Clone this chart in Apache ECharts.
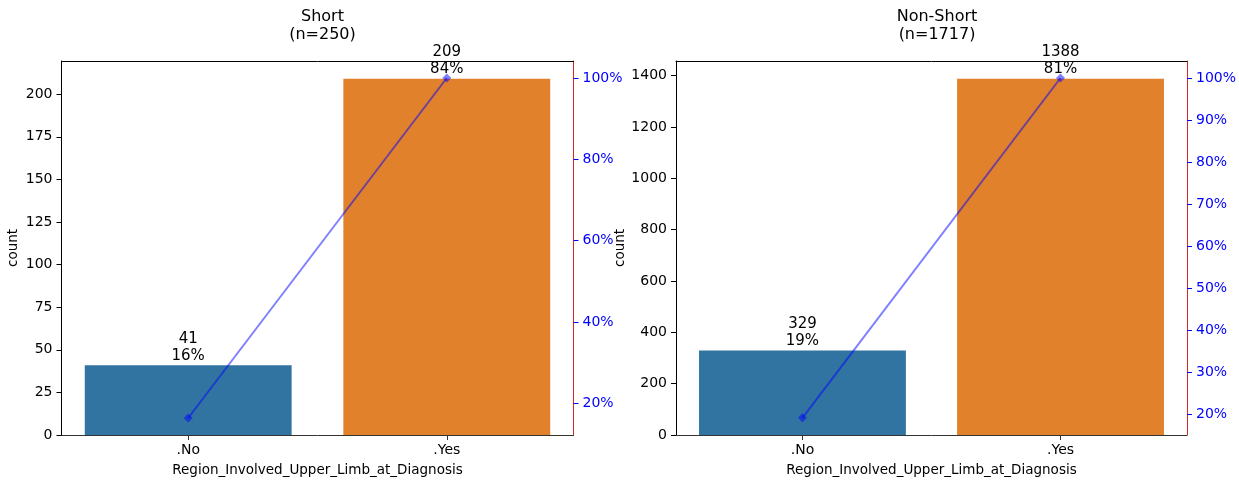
<!DOCTYPE html>
<html>
<head>
<meta charset="utf-8">
<script src="https://cdn.jsdelivr.net/npm/echarts@6/dist/echarts.min.js"></script>
<style>
html,body{margin:0;padding:0;background:#fff;}
#chart{width:1239px;height:484px;}
</style>
</head>
<body>
<div id="chart"></div>
<script>
const categories = ['.No', '.Yes'];
const shortCounts = [41, 209];
const nonShortCounts = [329, 1388];
const shortCumPct = [16.4, 100];
const nonShortCumPct = [19.2, 100];
const shortTitle = 'Short\n(n=250)';
const nonShortTitle = 'Non-Short\n(n=1717)';
const shortCountTicks = [0, 25, 50, 75, 100, 125, 150, 175, 200];
const nonShortCountTicks = [0, 200, 400, 600, 800, 1000, 1200, 1400];
const shortPctTicks = [20, 40, 60, 80, 100];
const nonShortPctTicks = [20, 30, 40, 50, 60, 70, 80, 90, 100];
const xName = 'Region_Involved_Upper_Limb_at_Diagnosis';

const FONT = 'DejaVu Sans';
const barColors = ['#3274a1', '#e1812c'];
const X_MIN = -0.49, X_MAX = 1.49, BAR_FRAC = 0.8;
const GRID_W = 512;
const catIdx = categories.map((c, i) => i);

function panel(idx, counts, cum, countTicks, countMax, pctTicks, pctRange, nameGapY) {
  const total = counts.reduce((a, b) => a + b, 0);
  const xAxis = {
    type: 'value', gridIndex: idx, min: X_MIN, max: X_MAX,
    name: xName, nameLocation: 'middle', nameGap: 28,
    nameTextStyle: {fontFamily: FONT, fontSize: 13.5, color: '#000'},
    axisLine: {show: true, onZero: false, lineStyle: {color: '#333', width: 1}},
    axisTick: {show: true, length: 5, customValues: catIdx, lineStyle: {color: '#333'}},
    axisLabel: {fontFamily: FONT, fontSize: 14, color: '#000', margin: 8, customValues: catIdx,
      formatter: v => categories[Math.round(v)]},
    splitLine: {show: false}
  };
  const xTop = {
    type: 'value', gridIndex: idx, min: X_MIN, max: X_MAX, position: 'top',
    axisLine: {show: true, onZero: false, lineStyle: {color: '#000', width: 1}},
    axisTick: {show: false}, axisLabel: {show: false}, splitLine: {show: false}
  };
  const yCount = {
    type: 'value', gridIndex: idx, position: 'left', min: 0, max: countMax,
    name: 'count', nameLocation: 'middle', nameGap: nameGapY, nameRotate: 90,
    nameTextStyle: {fontFamily: FONT, fontSize: 13.5, color: '#000'},
    axisLine: {show: true, onZero: false, lineStyle: {color: '#000', width: 1}},
    axisTick: {show: true, length: 5, customValues: countTicks, lineStyle: {color: '#000'}},
    axisLabel: {fontFamily: FONT, fontSize: 14, color: '#000', margin: 9, customValues: countTicks,
      formatter: v => String(v)},
    splitLine: {show: false}
  };
  const yPct = {
    type: 'value', gridIndex: idx, position: 'right', min: pctRange[0], max: pctRange[1],
    axisLine: {show: true, onZero: false, lineStyle: {color: '#d62728', width: 1}},
    axisTick: {show: true, length: 5, customValues: pctTicks, lineStyle: {color: '#0000ff'}},
    axisLabel: {fontFamily: FONT, fontSize: 14, color: '#0000ff', margin: 9, customValues: pctTicks,
      formatter: v => Math.round(v) + '%'},
    splitLine: {show: false}
  };
  const bar = {
    type: 'bar', xAxisIndex: idx * 2, yAxisIndex: idx * 2,
    barWidth: BAR_FRAC / (X_MAX - X_MIN) * GRID_W,
    data: counts.map((v, i) => ({value: [i, v], itemStyle: {color: barColors[i]}})),
    label: {show: true, position: 'top', distance: 1, fontFamily: FONT, fontSize: 15, color: '#000',
      lineHeight: 17, formatter: p => p.value[1] + '\n' + Math.round(p.value[1] / total * 100) + '%'},
    emphasis: {disabled: true}, z: 2
  };
  const line = {
    type: 'line', xAxisIndex: idx * 2, yAxisIndex: idx * 2 + 1,
    data: cum.map((v, i) => [i, v]),
    symbol: 'diamond', symbolSize: 9,
    lineStyle: {color: 'rgba(0,0,255,0.5)', width: 2},
    itemStyle: {color: 'rgba(0,0,255,0.5)'},
    emphasis: {disabled: true}, z: 3, animation: false
  };
  return {xAxes: [xAxis, xTop], yAxes: [yCount, yPct], series: [bar, line]};
}

const p1 = panel(0, shortCounts, shortCumPct, shortCountTicks, 219.45, shortPctTicks, [12.22, 104.18], 41);
const p2 = panel(1, nonShortCounts, nonShortCumPct, nonShortCountTicks, 1457.4, nonShortPctTicks, [15.12, 104.04], 49);

p1.series.forEach(s => { s.xAxisIndex = 0; });
p2.series.forEach(s => { s.xAxisIndex = 2; });
p1.series[0].yAxisIndex = 0; p1.series[1].yAxisIndex = 1;
p2.series[0].yAxisIndex = 2; p2.series[1].yAxisIndex = 3;

const titleStyle = {fontFamily: FONT, fontSize: 16, fontWeight: 'normal', color: '#000', lineHeight: 18};
const option = {
  animation: false,
  backgroundColor: '#fff',
  title: [
    {text: shortTitle, left: 317.5, top: 3, textAlign: 'center', textStyle: titleStyle},
    {text: nonShortTitle, left: 932, top: 3, textAlign: 'center', textStyle: titleStyle}
  ],
  grid: [
    {left: 61.5, width: GRID_W, top: 61, bottom: 49, containLabel: false},
    {left: 676, width: GRID_W, top: 61, bottom: 49, containLabel: false}
  ],
  xAxis: [...p1.xAxes, ...p2.xAxes],
  yAxis: [...p1.yAxes, ...p2.yAxes],
  series: [...p1.series, ...p2.series]
};

const chart = echarts.init(document.getElementById('chart'), null, {renderer: 'canvas'});
chart.setOption(option);
</script>
</body>
</html>
